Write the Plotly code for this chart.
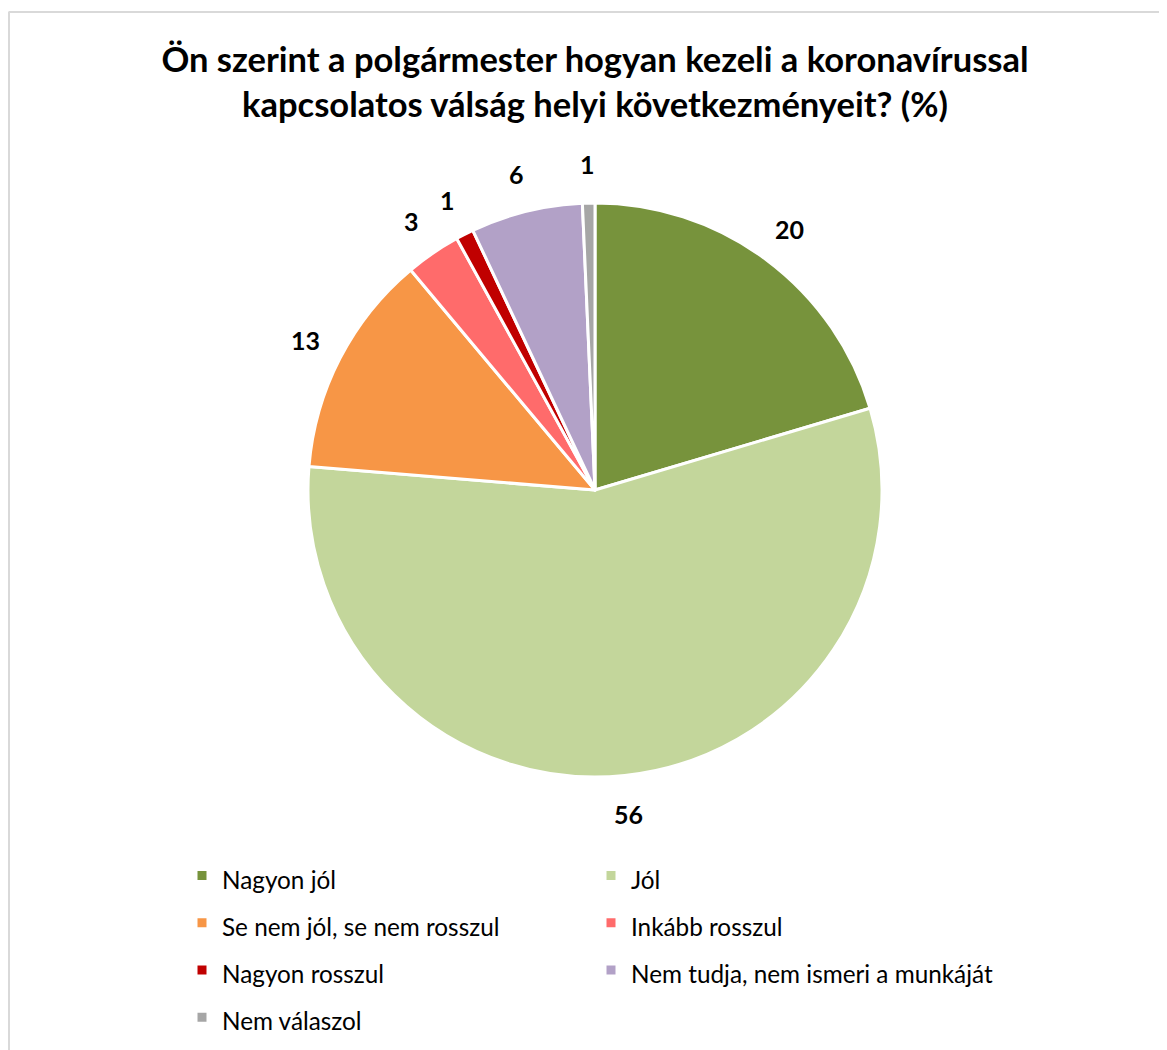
import math
import plotly.graph_objects as go

W, H = 1167, 1050

categories = ["Nagyon jól", "Jól", "Se nem jól, se nem rosszul", "Inkább rosszul",
              "Nagyon rosszul", "Nem tudja, nem ismeri a munkáját", "Nem válaszol"]
values = [20.4, 55.9, 12.6, 3.1, 1.0, 6.3, 0.7]
colors = ["#77933C", "#C3D69B", "#F79646", "#FF6B6B", "#C00000", "#B2A1C7", "#A6A6A6"]
title_text = "Ön szerint a polgármester hogyan kezeli a koronavírussal<br>kapcsolatos válság helyi következményeit? (%)"

FONT = "Lato"
OFF = 8  # page body margin of the exported html

def px_x(p):
    return (p - OFF) / W

def px_y(p):
    return 1 - (p - OFF) / H

# pie geometry (screen pixels)
CX, CY, R = 595, 490, 287
LABEL_R = 1.135 * R

legend_names = [f"<span style='font-size:24.3px'>{c}</span>" for c in categories]

fig = go.Figure(go.Pie(
    labels=legend_names,
    values=values,
    sort=False,
    direction="clockwise",
    rotation=0,
    marker=dict(colors=colors, line=dict(color="white", width=3)),
    textinfo="none",
    domain=dict(x=[px_x(CX - R), px_x(CX + R)], y=[px_y(CY + R), px_y(CY - R)]),
    showlegend=True,
    hovertemplate="%{label}: %{value}<extra></extra>",
))

# data labels at the middle angle of each slice, just outside the pie
total = sum(values)
annotations = []
cum = 0.0
for v in values:
    mid = (cum + v / 2) / total * 2 * math.pi
    cum += v
    lx = CX + LABEL_R * math.sin(mid)
    ly = CY - LABEL_R * math.cos(mid)
    annotations.append(dict(
        x=px_x(lx), y=px_y(ly), xref="paper", yref="paper",
        text=f"{v:.0f}", showarrow=False, xanchor="center", yanchor="middle",
        font=dict(family=FONT, size=25, color="black", weight="bold"),
    ))

fig.update_layout(
    width=W, height=H,
    margin=dict(l=0, r=0, t=0, b=0),
    paper_bgcolor="white",
    plot_bgcolor="white",
    font=dict(family=FONT, color="black"),
    title=dict(text=title_text, x=px_x(595), xanchor="center", y=px_y(72), yanchor="middle",
               font=dict(family=FONT, size=34.5, color="black", weight="bold")),
    legend=dict(orientation="h", x=px_x(182), xanchor="left", y=px_y(847), yanchor="top",
                entrywidth=364, entrywidthmode="pixels",
                font=dict(family=FONT, size=34, color="black"),
                itemwidth=30, traceorder="normal"),
    annotations=annotations,
    shapes=[
        dict(type="line", xref="paper", yref="paper", x0=px_x(8.5), x1=1.0, y0=px_y(12), y1=px_y(12),
             line=dict(color="#D9D9D9", width=2)),
        dict(type="line", xref="paper", yref="paper", x0=px_x(9), x1=px_x(9), y0=px_y(12), y1=0,
             line=dict(color="#D9D9D9", width=2)),
    ],
)

fig.write_html("out.html")
